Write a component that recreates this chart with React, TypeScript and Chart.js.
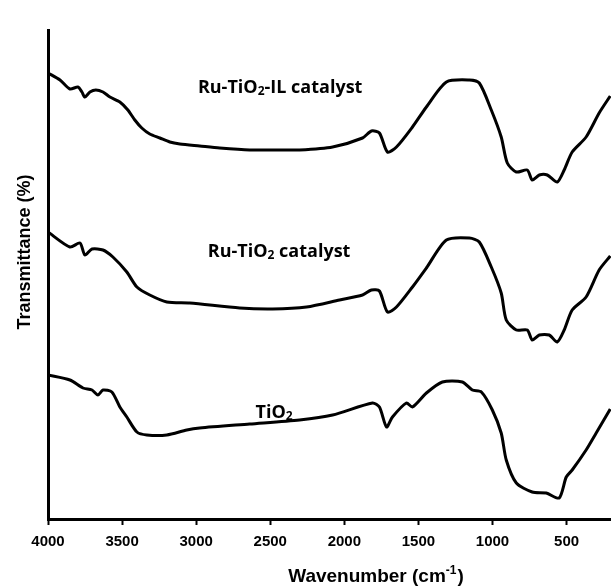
import React, { useEffect, useRef } from "react";
import { Chart, registerables } from "chart.js";

Chart.register(...registerables);

// X axis ticks (wavenumber, cm-1)
const xTickValues = [4000, 3500, 3000, 2500, 2000, 1500, 1000, 500];

// Ru-TiO2-IL catalyst (arbitrary transmittance units)
const ilWavenumbers = [4000, 3919, 3852, 3798, 3771, 3751, 3717, 3677, 3629, 3582, 3515, 3461, 3414, 3367, 3313, 3245, 3178, 3110, 2976, 2841, 2639, 2437, 2302, 2079, 1877, 1817, 1763, 1709, 1648, 1540, 1446, 1311, 1156, 1089, 1008, 941, 900, 839, 765, 732, 684, 630, 563, 516, 462, 368, 280, 205];
const ilValues = [444, 437, 428, 430, 425, 420, 425, 427, 425, 420, 415, 407, 397, 389, 383, 379, 375, 373, 371, 369, 367, 367, 367, 370, 379, 386, 384, 365, 370, 390, 410, 435, 437, 434, 407, 380, 354, 345, 347, 337, 342, 342, 335, 347, 365, 380, 404, 421];

// Ru-TiO2 catalyst
const ruWavenumbers = [4000, 3852, 3784, 3751, 3703, 3629, 3562, 3468, 3400, 3313, 3198, 3043, 2706, 2484, 2255, 2032, 1877, 1817, 1763, 1709, 1648, 1540, 1446, 1311, 1156, 1089, 1008, 941, 907, 839, 765, 732, 684, 617, 563, 516, 462, 368, 280, 205];
const ruValues = [285, 270, 274, 262, 268, 267, 260, 245, 230, 222, 215, 214, 209, 208, 210, 217, 222, 227, 226, 205, 210, 230, 249, 277, 279, 275, 250, 224, 197, 187, 187, 177, 182, 182, 175, 187, 207, 220, 247, 261];

// TiO2
const tiWavenumbers = [4000, 3852, 3764, 3703, 3663, 3629, 3569, 3515, 3468, 3400, 3333, 3198, 3063, 2976, 2639, 2302, 2079, 1810, 1763, 1715, 1675, 1581, 1540, 1446, 1338, 1203, 1136, 1075, 1001, 941, 907, 839, 732, 637, 550, 502, 462, 368, 300, 205];
const tiValues = [142, 137, 129, 127, 122, 127, 125, 110, 100, 85, 82, 82, 87, 89, 93, 97, 102, 114, 110, 90, 100, 114, 110, 124, 135, 135, 127, 125, 107, 84, 57, 34, 25, 24, 19, 40, 47, 67, 84, 108];

// Series labels and their anchor (wavenumber, value)
const seriesNames = ["Ru-TiO₂-IL catalyst", "Ru-TiO₂ catalyst", "TiO₂"];
const labelWavenumbers = [2433, 2440, 2474];
const labelValues = [424, 260, 99];

const xTitle = "Wavenumber (cm";
const xTitleSup = "-1";
const yTitle = "Transmittance (%)";

const toPoints = (xs: number[], ys: number[]) => xs.map((x, i) => ({ x, y: ys[i] }));

const SANS = '"Liberation Sans", Arial, sans-serif';
const LABEL_FONT = '"Open Sans", Lato, sans-serif';

const annotationPlugin = {
  id: "ftirAnnotations",
  afterDraw(chart: any) {
    const ctx: CanvasRenderingContext2D = chart.ctx;
    const xs = chart.scales.x;
    const ys = chart.scales.y;
    ctx.save();
    ctx.fillStyle = "#000";

    // Y title
    ctx.save();
    ctx.font = `bold 18px ${SANS}`;
    ctx.translate(25, 252);
    ctx.rotate(-Math.PI / 2);
    ctx.textAlign = "center";
    ctx.textBaseline = "middle";
    ctx.fillText(yTitle, 0, 0);
    ctx.restore();

    // X title with superscript
    ctx.textBaseline = "alphabetic";
    ctx.textAlign = "left";
    const mainFont = `bold 19px ${SANS}`;
    const supFont = `bold 12px ${SANS}`;
    ctx.font = mainFont;
    const w1 = ctx.measureText(xTitle).width;
    const w3 = ctx.measureText(")").width;
    ctx.font = supFont;
    const w2 = ctx.measureText(xTitleSup).width;
    const total = w1 + w2 + w3 + 1;
    let cx = 376 - total / 2;
    const base = 582;
    ctx.font = mainFont;
    ctx.fillText(xTitle, cx, base);
    cx += w1;
    ctx.font = supFont;
    ctx.fillText(xTitleSup, cx, base - 8);
    cx += w2 + 1;
    ctx.font = mainFont;
    ctx.fillText(")", cx, base);

    // Series labels with subscript 2
    const lf = `bold 18px ${LABEL_FONT}`;
    const sf = `bold 12px ${LABEL_FONT}`;
    seriesNames.forEach((name, i) => {
      const parts = name.split("₂");
      const px = xs.getPixelForValue(labelWavenumbers[i]);
      const py = ys.getPixelForValue(labelValues[i]);
      const segs: { t: string; sub: boolean }[] = [];
      parts.forEach((p, j) => {
        if (j > 0) segs.push({ t: "2", sub: true });
        if (p) segs.push({ t: p, sub: false });
      });
      let width = 0;
      segs.forEach((s) => {
        ctx.font = s.sub ? sf : lf;
        width += ctx.measureText(s.t).width;
      });
      let x = px - width / 2;
      segs.forEach((s) => {
        ctx.font = s.sub ? sf : lf;
        ctx.fillText(s.t, x, s.sub ? py + 2 : py);
        x += ctx.measureText(s.t).width;
      });
    });
    ctx.restore();
  },
};

export default function App() {
  const canvasRef = useRef<HTMLCanvasElement | null>(null);

  useEffect(() => {
    if (!canvasRef.current) return;
    const lineStyle = {
      borderColor: "#000",
      borderWidth: 3,
      pointRadius: 0,
      tension: 0.25,
      fill: false,
    };
    const chart = new Chart(canvasRef.current, {
      type: "line",
      data: {
        datasets: [
          { label: seriesNames[0], data: toPoints(ilWavenumbers, ilValues), ...lineStyle },
          { label: seriesNames[1], data: toPoints(ruWavenumbers, ruValues), ...lineStyle },
          { label: seriesNames[2], data: toPoints(tiWavenumbers, tiValues), ...lineStyle },
        ],
      },
      options: {
        animation: false,
        responsive: false,
        devicePixelRatio: 1,
        layout: { padding: { top: 30, left: 0, right: 0, bottom: 0 } },
        plugins: {
          legend: { display: false },
          tooltip: { enabled: false },
        },
        scales: {
          x: {
            type: "linear",
            reverse: true,
            min: 200,
            max: 4000,
            afterBuildTicks: (s: any) => {
              s.ticks = xTickValues.map((v) => ({ value: v }));
            },
            afterFit: (s: any) => {
              s.height = 68;
            },
            ticks: {
              color: "#000",
              font: { family: SANS, size: 15, weight: "bold" },
              padding: 8,
              maxRotation: 0,
              autoSkip: false,
              callback: (v: any) => String(v),
            },
            grid: {
              drawOnChartArea: false,
              drawTicks: true,
              tickLength: 6,
              tickWidth: 2,
              tickColor: "#000",
            },
            border: { display: true, color: "#000", width: 3 },
          },
          y: {
            type: "linear",
            min: -2,
            max: 487,
            afterFit: (s: any) => {
              s.width = 48;
            },
            ticks: { display: false },
            grid: { drawOnChartArea: false, drawTicks: false },
            border: { display: true, color: "#000", width: 3 },
          },
        },
      },
      plugins: [annotationPlugin],
    } as any);
    return () => chart.destroy();
  }, []);

  return (
    <div style={{ position: "absolute", left: 0, top: 0, width: 611, height: 587, background: "#fff" }}>
      <canvas ref={canvasRef} width={611} height={587} />
    </div>
  );
}
